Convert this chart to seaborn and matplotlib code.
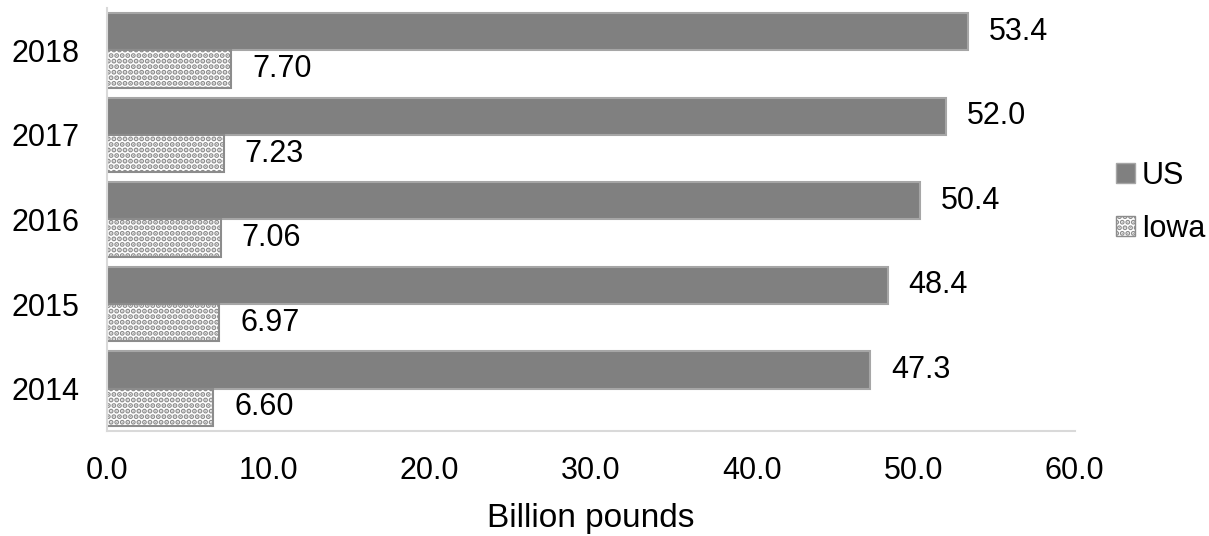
"""
Milk production, US vs Iowa, 2014-2018 (horizontal grouped bars)
"""

import pandas as pd
import matplotlib.pyplot as plt
import seaborn as sns
from matplotlib.patches import Patch

sns.set_style("white")
plt.rcParams['font.family'] = ['Liberation Sans', 'DejaVu Sans']
plt.rcParams['text.color'] = 'black'
plt.rcParams['xtick.color'] = 'black'
plt.rcParams['ytick.color'] = 'black'
plt.rcParams['axes.labelcolor'] = 'black'
plt.rcParams['hatch.linewidth'] = 2.6

# Data
years = ['2014', '2015', '2016', '2017', '2018']
us_values = [47.3, 48.4, 50.4, 52.0, 53.4]
iowa_values = [6.60, 6.97, 7.06, 7.23, 7.70]
series = ['US', 'Iowa']
x_ticks = [0, 10, 20, 30, 40, 50, 60]

df = pd.DataFrame({
    'year': years * 2,
    'value': us_values + iowa_values,
    'series': ['US'] * len(years) + ['Iowa'] * len(years),
})

fig = plt.figure(figsize=(12.09, 5.36), dpi=100)
ax = fig.add_axes([0.0885, 0.196, 0.8005, 0.789])

sns.barplot(data=df, y='year', x='value', hue='series',
            order=years[::-1], hue_order=series, orient='h',
            width=0.88, palette={'US': '#808080', 'Iowa': 'white'},
            legend=False, ax=ax)

# US: solid gray, Iowa: white with gray dot pattern
for p in ax.containers[0]:
    p.set_edgecolor('#a6a6a6')
    p.set_linewidth(1.5)
for p in ax.containers[1]:
    p.set_facecolor('white')
    p.set_edgecolor('#8c8c8c')
    p.set_hatch('...')
    p.set_linewidth(1.5)

ax.bar_label(ax.containers[0], fmt='%.1f', padding=15, fontsize=22)
ax.bar_label(ax.containers[1], fmt='%.2f', padding=15, fontsize=22)

ax.set_xlim(0, 60)
ax.set_xticks(x_ticks)
ax.set_xticklabels([f'{t:.1f}' for t in x_ticks])
ax.set_xlabel('Billion pounds', fontsize=24, labelpad=12)
ax.set_ylabel('')
ax.tick_params(axis='x', length=0, pad=18, labelsize=22)
ax.tick_params(axis='y', length=0, pad=20, labelsize=22)

for side in ['top', 'right']:
    ax.spines[side].set_visible(False)
for side in ['left', 'bottom']:
    ax.spines[side].set_color('#d9d9d9')
    ax.spines[side].set_linewidth(1.5)

handles = [Patch(facecolor='#808080', edgecolor='#a6a6a6', label='US'),
           Patch(facecolor='white', edgecolor='#8c8c8c', hatch='...', label='Iowa')]
fig.legend(handles=handles, loc='center left', bbox_to_anchor=(0.9, 0.623),
           frameon=False, fontsize=22, handlelength=0.65, handleheight=0.65,
           handletextpad=0.2, labelspacing=0.75)

plt.savefig('out.png', dpi=100)
plt.close()
